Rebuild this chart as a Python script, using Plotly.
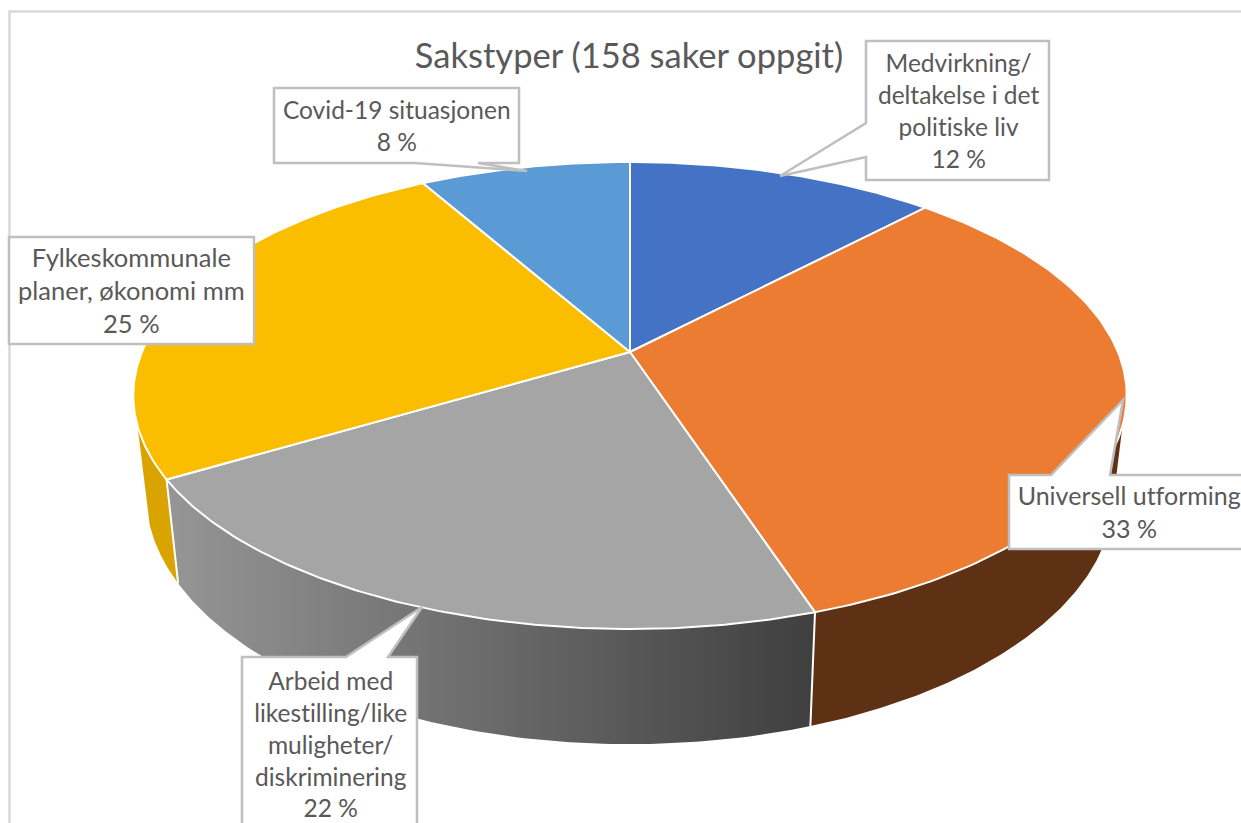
import numpy as np
import plotly.graph_objects as go

# ---- data ----
categories = ["Medvirkning/<br>deltakelse i det<br>politiske liv", "Universell utforming",
              "Arbeid med<br>likestilling/like<br>muligheter/<br>diskriminering",
              "Fylkeskommunale<br>planer, økonomi mm", "Covid-19 situasjonen"]
values = [12.05, 32.9, 21.5, 25.35, 8.2]
top_colors = ["#4472C4", "#EB7C31", "#A5A5A5", "#FBBD00", "#5B9BD5"]
title_text = "Sakstyper (158 saker oppgit)"

# ---- projection of the tilted disc (chart units = page pixels) ----
W, H = 1241, 823
CX, CY, BX, AY, K = 630, 352, 488, 225.4, 0.1863
S_X, S_Y, C_Y = 0.975, 1.075, 68


def top(theta):
    u, v = np.sin(theta), -np.cos(theta)
    d = 1 - K * v
    return CX + BX * u / d, CY + AY * v / d


def bottom(theta):
    x, y = top(theta)
    return CX + (x - CX) * S_X, y * S_Y + C_Y


def arc(a, b, n=120):
    return np.linspace(a, b, n)


cum = np.cumsum([0] + values) / sum(values) * 2 * np.pi
VIS_L, VIS_R = np.radians(252), np.radians(108)

fig = go.Figure()

# side walls: (from, to, style)
walls = [
    (VIS_R, cum[2], dict(fillcolor="#5F3114")),
    (cum[2], cum[3], dict(fillgradient=dict(type="horizontal",
                                            colorscale=[[0, "#969696"], [1, "#3F3F3F"]]))),
    (cum[3], VIS_L, dict(fillcolor="#D9A300")),
]
for a, b, style in walls:
    t = arc(a, b)
    xt, yt = top(t)
    xb, yb = bottom(t[::-1])
    fig.add_trace(go.Scatter(x=np.r_[xt, xb, xt[0]], y=np.r_[yt, yb, yt[0]], mode="lines",
                             fill="toself", line=dict(width=0, color="rgba(0,0,0,0)"),
                             hoverinfo="skip", showlegend=False, **style))

# white seams between wall segments
for a in (cum[2], cum[3]):
    x0, y0 = top(a)
    x1, y1 = bottom(a)
    fig.add_trace(go.Scatter(x=[x0, x1], y=[y0, y1], mode="lines",
                             line=dict(color="white", width=2), hoverinfo="skip", showlegend=False))

# top slices
for i, c in enumerate(top_colors):
    t = arc(cum[i], cum[i + 1])
    x, y = top(t)
    fig.add_trace(go.Scatter(x=np.r_[CX, x, CX], y=np.r_[CY, y, CY], mode="lines", fill="toself",
                             fillcolor=c, line=dict(color="white", width=2),
                             hoverinfo="skip", showlegend=False))

# ---- callout boxes and frame ----
BORDER = "#BFBFBF"
callouts = [
    "M866,41 L1049,41 L1049,180 L866,180 L866,157 L780,176 L866,123 Z",
    "M1009,475 L1051,475 L1123,400 L1110,475 L1250,475 L1250,549 L1009,549 Z",
    "M242,657 L346,657 L422,607 L388,657 L417,657 L417,830 L242,830 Z",
    "M9,237 L254,237 L254,344 L9,344 Z",
    "M274,88 L519,88 L519,163 L478,163 L527,171 L415,163 L274,163 Z",
]
shapes = [dict(type="path", path="M9.5,830 L9.5,11.5 L1250,11.5", xref="x", yref="y",
               line=dict(color="#D9D9D9", width=2.5))]
shapes += [dict(type="path", path=p, xref="x", yref="y", fillcolor="white",
                line=dict(color=BORDER, width=2.5)) for p in callouts]

# ---- texts ----
label_pos = [(958, 110), (1129, 511), (330, 744), (131, 290), (396, 125)]
label_size = [24.5, 25, 24.5, 25.5, 24.5]
TXT = "#595959"
annotations = [dict(x=px, y=py, xref="x", yref="y", showarrow=False, align="center",
                    text=f"{c}<br>{round(v)} %", font=dict(family="Lato", size=s, color=TXT))
               for c, v, (px, py), s in zip(categories, values, label_pos, label_size)]
annotations.append(dict(x=629, y=54, xref="x", yref="y", showarrow=False, text=title_text,
                        font=dict(family="Lato", size=34.5, color=TXT)))

fig.update_layout(
    width=W, height=H, margin=dict(l=0, r=0, t=0, b=0), autosize=False,
    paper_bgcolor="white", plot_bgcolor="white", showlegend=False,
    xaxis=dict(range=[0, W], visible=False, fixedrange=True),
    yaxis=dict(range=[H, 0], visible=False, fixedrange=True),
    shapes=shapes, annotations=annotations,
)
fig.write_html("out.html", config=dict(displayModeBar=False),
               default_width=f"{W}px", default_height=f"{H}px",
               post_script="document.body.style.margin='0';"
                           "var s=document.createElement('style');"
                           "s.textContent='svg text{font-variant-ligatures:none !important;"
                           "font-feature-settings:\"liga\" 0,\"clig\" 0 !important;"
                           "letter-spacing:0.01px !important}';"
                           "document.head.appendChild(s);")
